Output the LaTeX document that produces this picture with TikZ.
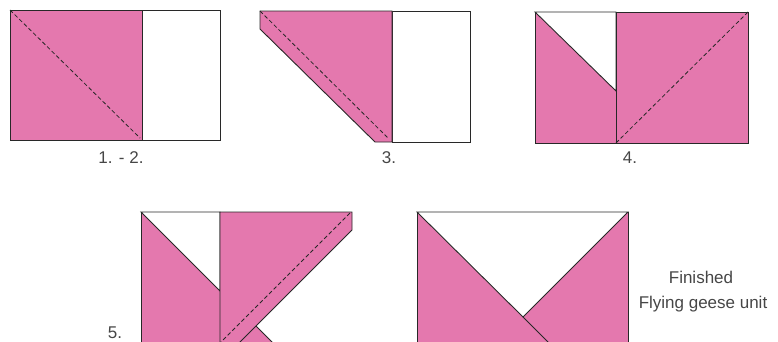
\documentclass[tikz,border=0pt]{standalone}
\usepackage{fontspec}
\setmainfont{Liberation Sans}
\definecolor{quiltpink}{RGB}{228,120,174}
\definecolor{edge}{RGB}{40,40,40}
\definecolor{txt}{RGB}{70,70,70}
\begin{document}
\begin{tikzpicture}[x=1pt,y=-1pt,
  piece/.style={fill=quiltpink,draw=edge,line width=0.9pt,line join=miter},
  blank/.style={fill=white,draw=edge,line width=0.9pt},
  seam/.style={draw=edge,line width=0.9pt},
  stitch/.style={draw=edge,line width=0.8pt,dash pattern=on 4pt off 2.5pt},
  lbl/.style={text=txt,font=\fontsize{17}{20}\selectfont,inner sep=0pt}]
\useasboundingbox (0,0) rectangle (778,341);
\begin{scope}
\clip (0,0) rectangle (778,341);
% Panel 1-2
\draw[blank] (10,10) rectangle (220,140);
\draw[piece] (10,10) rectangle (142,140);
\draw[stitch] (10,10) -- (140,138);
\node[lbl] (l12) at (121,158) {1. - 2.};
% Panel 3
\draw[blank] (392,11) rectangle (470,142);
\draw[piece] (260,11) -- (392,11) -- (392,142) -- (375,142) -- (260,29) -- cycle;
\draw[stitch] (260,11) -- (389,139);
\node[lbl] (l3) at (389,158) {3.};
% Panel 4
\draw[piece] (535,12) rectangle (748,143);
\draw[seam,fill=white] (535,12) -- (616,12) -- (616,91) -- cycle;
\draw[seam] (616,12) -- (616,143);
\draw[stitch] (616,143) -- (748,12);
\node[lbl] (l4) at (630,158) {4.};
% Panel 5
\draw[piece] (141,345) -- (141,212) -- (220,212) -- (220,345);
\draw[seam,fill=white] (141,212) -- (220,212) -- (220,291) -- cycle;
\fill[quiltpink] (220,212) -- (352,212) -- (352,230) -- (256,326) -- (275,345) -- (220,345) -- cycle;
\draw[seam] (220,345) -- (220,212) -- (352,212) -- (352,230) -- (237,345);
\draw[seam] (256,326) -- (275,345);
\draw[stitch] (350,213) -- (218,345);
\node[lbl] (l5) at (115,333) {5.};
% Finished unit
\draw[piece] (417,345) -- (417,212) -- (628,212) -- (628,345);
\draw[seam,fill=white] (417,212) -- (628,212) -- (523,317) -- cycle;
\draw[seam] (523,317) -- (551,345);
\end{scope}
\node[lbl] (fin) at (701,277) {Finished};
\node[lbl] (fgu) at (703,304) {Flying geese unit};
\end{tikzpicture}
\end{document}
